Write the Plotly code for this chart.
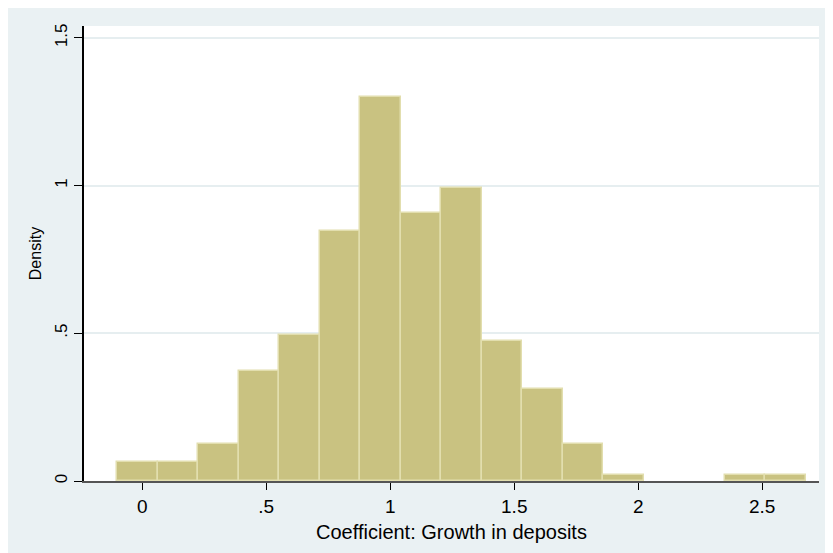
import plotly.graph_objects as go

# histogram bins (edges) and densities
bin_edges = [-0.101, 0.062, 0.226, 0.389, 0.552, 0.716, 0.879, 1.042, 1.206,
             1.369, 1.532, 1.696, 1.859, 2.022, 2.186, 2.349, 2.512, 2.676]
density = [0.063, 0.063, 0.124, 0.372, 0.494, 0.846, 1.299, 0.908, 0.991,
           0.475, 0.310, 0.124, 0.020, 0.0, 0.0, 0.020, 0.020]

x_ticks = [0, 0.5, 1, 1.5, 2, 2.5]
x_tick_labels = ['0', '.5', '1', '1.5', '2', '2.5']
y_ticks = [0, 0.5, 1, 1.5]
y_tick_labels = ['0', '.5', '1', '1.5']

centers = [(a + b) / 2 for a, b in zip(bin_edges[:-1], bin_edges[1:])]
widths = [b - a for a, b in zip(bin_edges[:-1], bin_edges[1:])]
# empty bins get no outline
outline = [1.5 if d > 0 else 0 for d in density]

bg = '#EAF1F3'
family = 'Liberation Sans, Arial, sans-serif'

fig = go.Figure()
fig.add_trace(go.Bar(x=centers, y=density, width=widths,
                     marker=dict(color='#C9C281', line=dict(color='#E2DEAE', width=outline)),
                     showlegend=False))

fig.update_layout(
    width=833, height=553,
    margin=dict(l=76, r=22, t=18, b=80),
    paper_bgcolor=bg,
    plot_bgcolor='white',
    font=dict(family=family, size=17, color='black'),
    bargap=0,
)
fig.update_xaxes(range=[-0.235, 2.729], tickvals=x_ticks, ticktext=x_tick_labels,
                 tickfont=dict(size=19),
                 ticks='outside', ticklen=7, tickcolor='black', tickwidth=1,
                 showline=True, linecolor='#555555', linewidth=1.5,
                 showgrid=False, zeroline=False,
                 title=dict(text='Coefficient: Growth in deposits', font=dict(size=20), standoff=9))
fig.update_yaxes(range=[0, 1.54], tickvals=y_ticks, ticktext=y_tick_labels,
                 tickfont=dict(size=17),
                 tickangle=-90, ticks='outside', ticklen=8, tickcolor='black', tickwidth=1,
                 showline=True, linecolor='black', linewidth=1.5,
                 showgrid=True, gridcolor='#E6EEF0', gridwidth=1.5, zeroline=False,
                 title=dict(text='Density', font=dict(size=16), standoff=7))

fig.write_html("out.html")
